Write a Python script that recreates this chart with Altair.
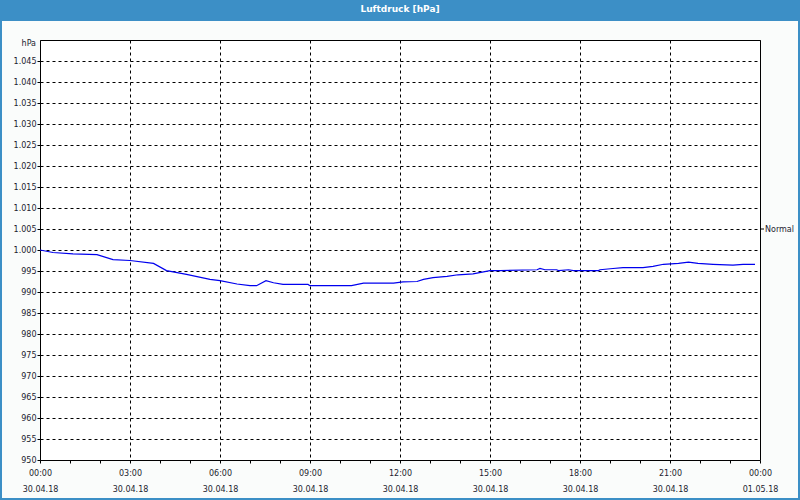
import altair as alt
import pandas as pd

# time of day (30.04.18, HH:MM) and air pressure in hPa
times = ["00:00", "00:26", "01:06", "01:54", "02:26", "03:00", "03:47", "04:13", "04:53", "05:40",
         "06:00", "06:34", "07:00", "07:13", "07:32", "07:47", "08:06", "08:56", "09:00", "10:23",
         "10:47", "11:47", "12:06", "12:34", "12:47", "13:06", "13:34", "13:56", "14:26", "14:47",
         "15:00", "15:20", "16:34", "16:40", "16:50", "17:13", "17:17", "17:37", "17:47", "18:37",
         "18:40", "19:06", "19:26", "20:06", "20:26", "20:47", "21:17", "21:37", "21:56", "22:26",
         "23:06", "23:26", "23:50"]
pressure = [1000.0, 999.4, 999.1, 998.9, 997.7, 997.5, 996.8, 995.1, 994.2, 993.0,
            992.7, 991.9, 991.5, 991.5, 992.7, 992.2, 991.8, 991.8, 991.5, 991.5,
            992.1, 992.1, 992.4, 992.5, 993.0, 993.4, 993.7, 994.1, 994.3, 994.8,
            995.1, 995.1, 995.3, 995.6, 995.3, 995.3, 995.1, 995.3, 995.1, 995.1,
            995.3, 995.6, 995.8, 995.8, 996.1, 996.6, 996.8, 997.1, 996.8, 996.6,
            996.4, 996.6, 996.6]
y_ticks = list(range(950, 1050, 5))
normal_value = 1005
title_text = "Luftdruck [hPa]"
unit_text = "hPa"
normal_text = "Normal"

df = pd.DataFrame({"time": ["2018-04-30T" + t + ":00Z" for t in times], "hPa": pressure})

hour_ticks = [alt.DateTime(year=2018, month=4, date=30, hours=h, utc=True) for h in range(24)]
hour_ticks.append(alt.DateTime(year=2018, month=5, date=1, hours=0, utc=True))

FONT = "DejaVu Sans"
BLUE = "#3c8fc6"
LABEL = "#1c1c30"

y_scale = alt.Scale(domain=[950, 1050], nice=False, zero=False)
y_axis = alt.Axis(
    title=None,
    values=y_ticks,
    labelExpr="replace(format(datum.value, ','), ',', '.')",
    labelOverlap=False,
    labelFlush=False,
    labelFont=FONT,
    labelFontSize=8,
    labelColor=LABEL,
    labelPadding=1,
    tickSize=3,
    tickColor="black",
    domain=False,
    grid=True,
    gridColor="black",
    gridDash=[3, 3],
)

x_enc = alt.X(
    "time:T",
    scale=alt.Scale(type="utc", domain=[hour_ticks[0], hour_ticks[-1]], nice=False),
    axis=alt.Axis(
        title=None,
        values=hour_ticks,
        labelExpr="utchours(datum.value) % 3 == 0 ? [utcFormat(datum.value, '%H:%M'), utcFormat(datum.value, '%d.%m.%y')] : ''",
        labelOverlap=False,
        labelFlush=False,
        labelLineHeight=16,
        labelPadding=6,
        labelFont=FONT,
        labelFontSize=8,
        labelColor=LABEL,
        tickSize=3,
        tickColor="black",
        domain=False,
        grid=True,
        gridColor="black",
        gridDash=[3, 3],
        gridOpacity={"condition": {"test": "utchours(datum.value) % 3 == 0", "value": 1}, "value": 0},
    ),
)

line = alt.Chart(df).mark_line(color="#0000ee", strokeWidth=1.2).encode(
    x=x_enc, y=alt.Y("hPa:Q", scale=y_scale, axis=y_axis)
)

one = pd.DataFrame({"t": [title_text]})

title_bar = alt.Chart(one).mark_rect(color=BLUE).encode(
    x=alt.value(-40), x2=alt.value(760), y=alt.value(-40), y2=alt.value(-19)
)
frame = alt.Chart(one).mark_rect(fill=None, fillOpacity=0, stroke=BLUE, strokeWidth=2).encode(
    x=alt.value(-39), x2=alt.value(759), y=alt.value(-39), y2=alt.value(459)
)
title = alt.Chart(one).mark_text(color="white", font=FONT, fontSize=9, fontWeight="bold").encode(
    x=alt.value(360), y=alt.value(-31), text="t:N"
)
unit = alt.Chart(pd.DataFrame({"t": [unit_text]})).mark_text(
    color=LABEL, font=FONT, fontSize=8, align="right"
).encode(x=alt.value(-4), y=alt.value(4), text="t:N")

normal_tick = alt.Chart(pd.DataFrame({"hPa": [normal_value]})).mark_rule(color="black").encode(
    x=alt.value(721), x2=alt.value(724), y=alt.Y("hPa:Q", scale=y_scale, axis=y_axis)
)
normal_label = alt.Chart(pd.DataFrame({"hPa": [normal_value], "t": [normal_text]})).mark_text(
    color=LABEL, font=FONT, fontSize=8, align="left", dy=1
).encode(x=alt.value(725), y=alt.Y("hPa:Q", scale=y_scale, axis=y_axis), text="t:N")

chart = alt.layer(frame, title_bar, title, unit, line, normal_tick, normal_label).properties(
    width=720,
    height=420,
    autosize=alt.AutoSizeParams(type="none"),
    padding={"left": 40, "top": 40, "right": 40, "bottom": 40},
    background="#fafcfb",
).configure_view(stroke="black", strokeWidth=1, fill="white")

chart.save("out.html", embed_options={"renderer": "svg", "actions": False})
